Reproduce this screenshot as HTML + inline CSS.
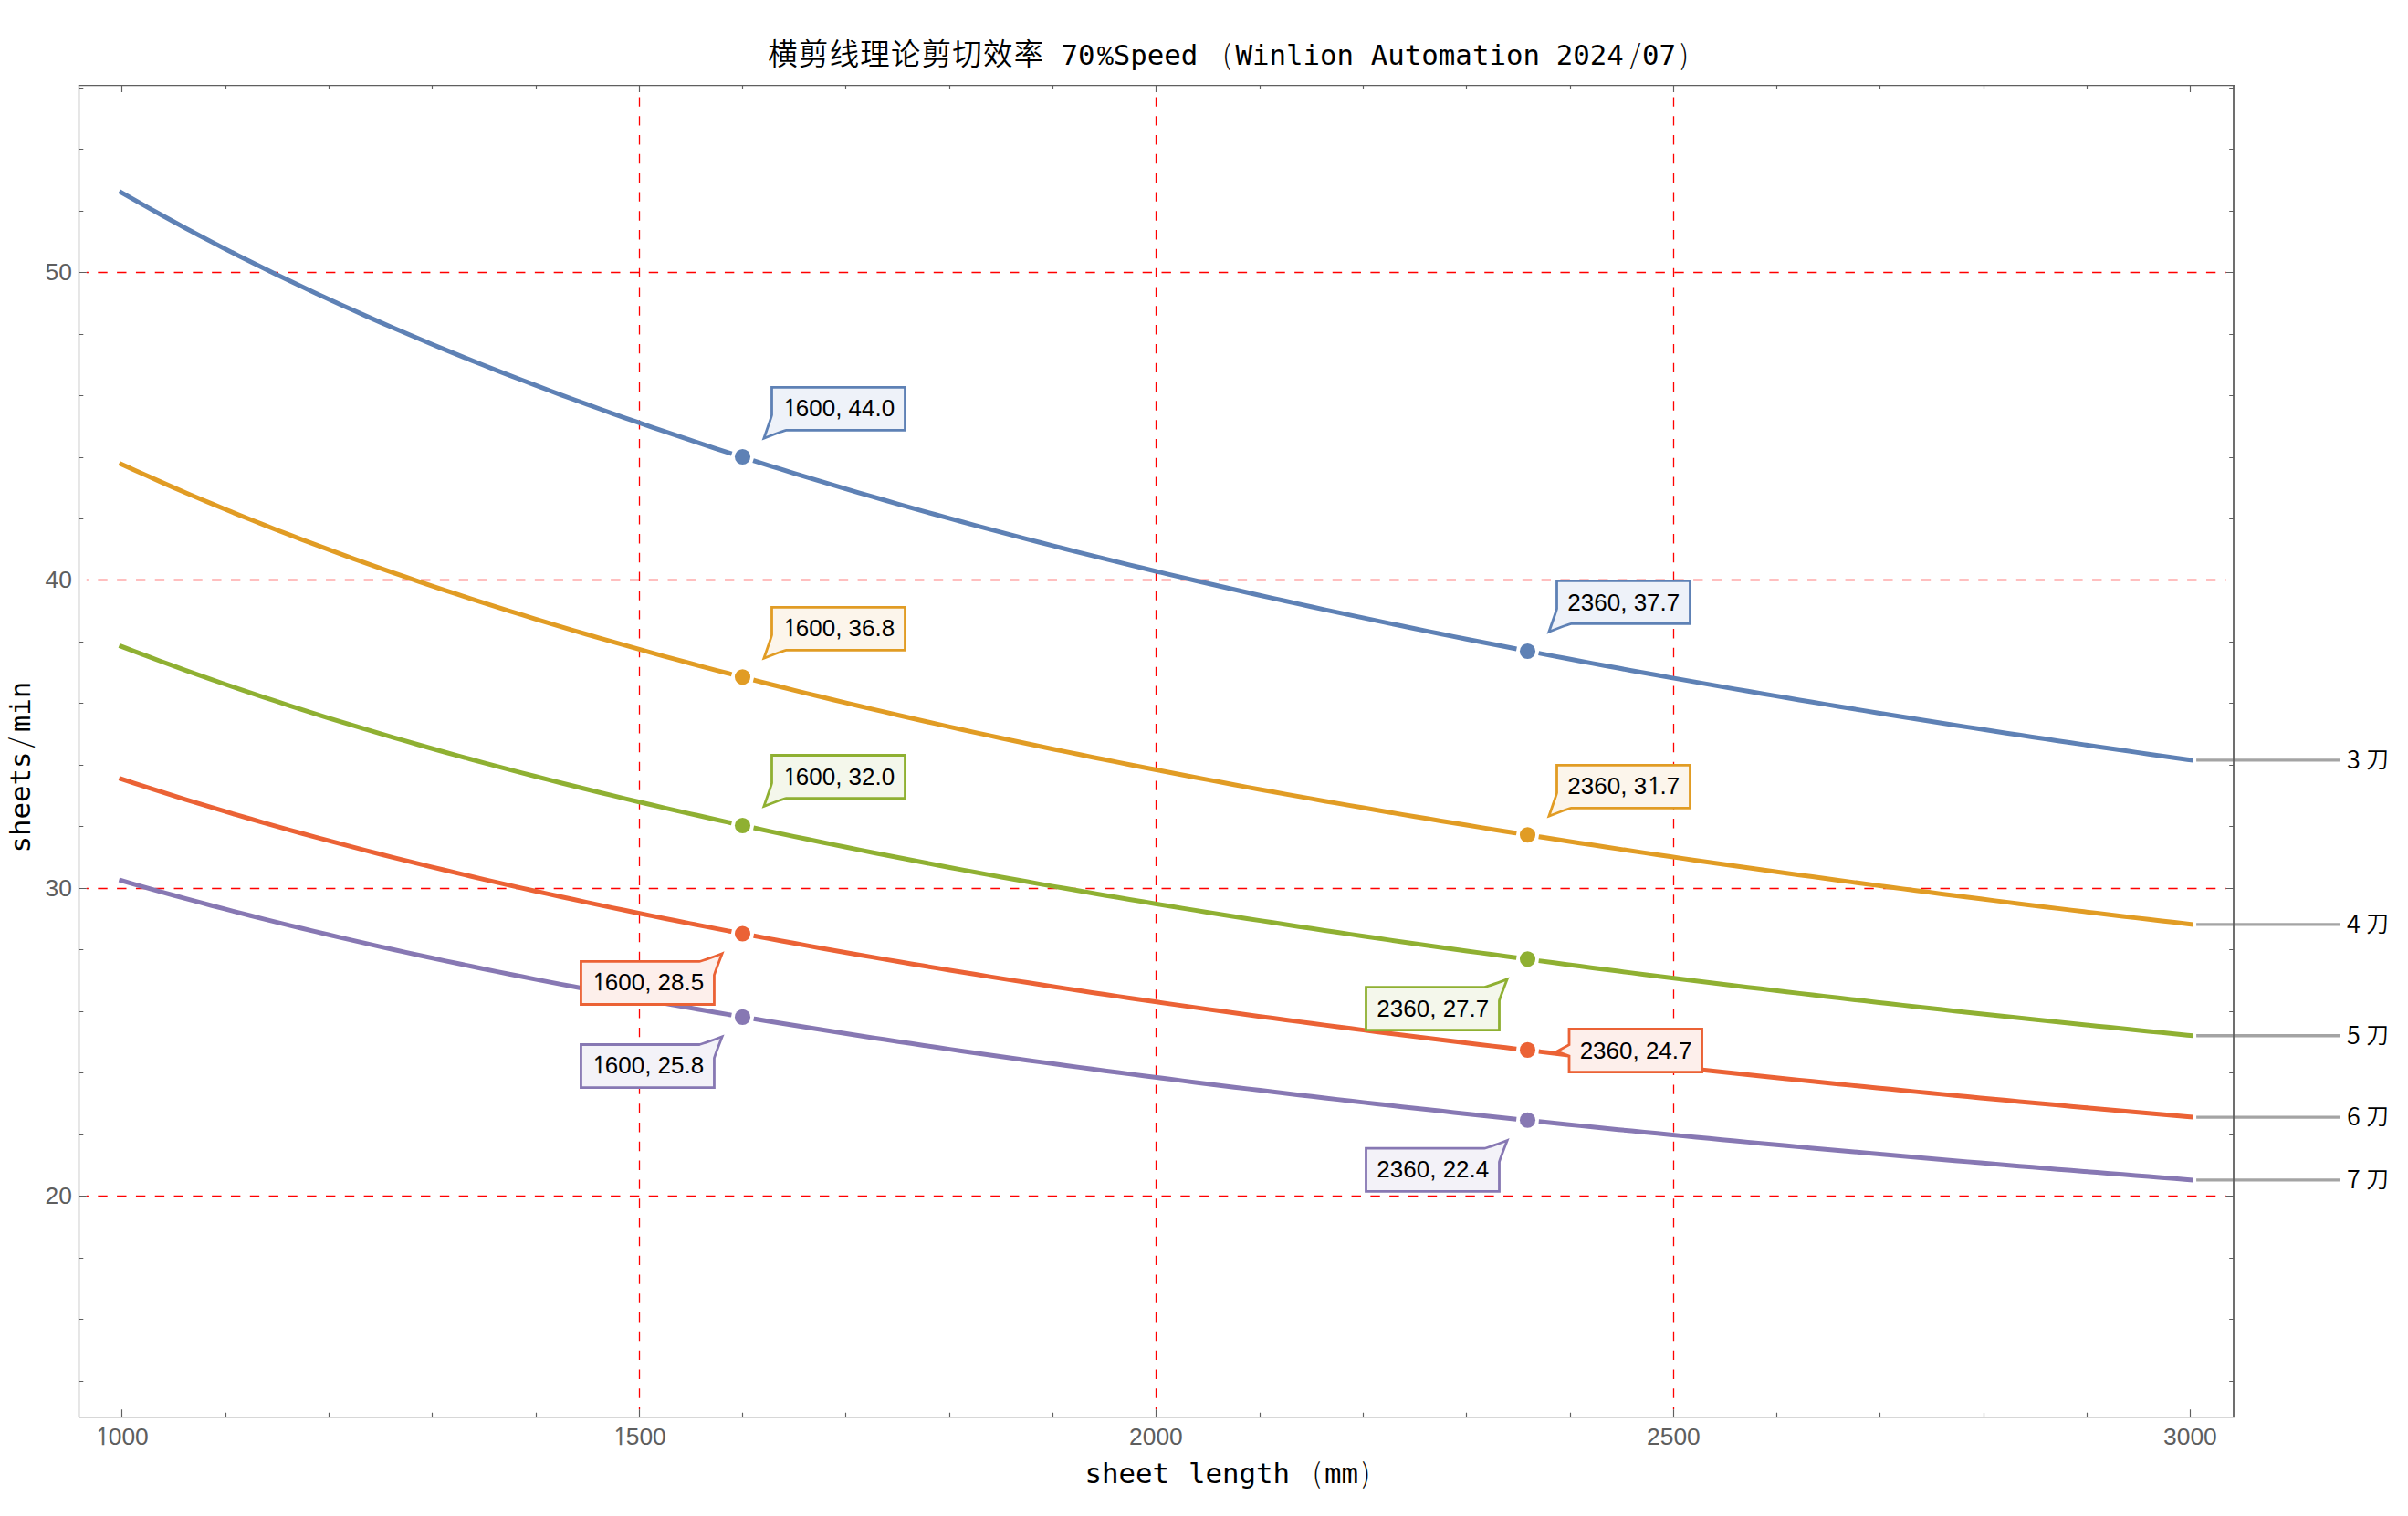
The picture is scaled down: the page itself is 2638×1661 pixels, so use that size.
<!DOCTYPE html>
<html lang="zh-CN">
<head>
<meta charset="utf-8">
<title>横剪线理论剪切效率 70%Speed (Winlion Automation 2024/07)</title>
<style>
html,body{margin:0;padding:0;background:#fff;}
body{width:2638px;height:1661px;overflow:hidden;}
svg{display:block;}
text{white-space:pre;}
.tick{font-family:'Liberation Sans', 'Noto Sans CJK SC', sans-serif;font-size:26.4px;fill:#5E5E5E;color:#5E5E5E;}
.call{font-family:'Liberation Sans', 'Noto Sans CJK SC', sans-serif;font-size:26px;fill:#000;color:#000;}
.one{font-family:'NanumGothic', 'Liberation Sans', sans-serif;stroke:currentColor;stroke-width:0.5px;}
.lab{font-family:'Noto Sans CJK SC', 'Liberation Sans', sans-serif;font-size:26.9px;font-weight:350;fill:#000;}
.labc{font-family:'Noto Sans CJK SC', 'Liberation Sans', sans-serif;font-size:24.6px;font-weight:350;}
.mono{font-family:'DejaVu Sans Mono', 'Liberation Mono', 'Noto Sans CJK SC', monospace;font-size:30.76px;fill:#000;}
.cjk{font-family:'Liberation Sans', 'Noto Sans CJK SC', sans-serif;font-size:32.4px;font-weight:350;letter-spacing:1.28px;}
.sym{font-family:'Noto Sans CJK SC', 'Liberation Sans', sans-serif;font-size:30px;font-weight:300;}
.pct{font-family:'Liberation Mono', 'DejaVu Sans Mono', monospace;font-size:29px;}
</style>
</head>
<body>
<svg width="2638" height="1661" viewBox="0 0 2638 1661" role="img" aria-label="sheets/min vs sheet length">
<rect x="0" y="0" width="2638" height="1661" fill="#ffffff"/>
<g id="grid" stroke="#FF0000" stroke-width="1.3" stroke-dasharray="10.4 10.407" stroke-dashoffset="8.3" fill="none">
<line x1="94.8" y1="1310.5" x2="2438.7" y2="1310.5"/>
<line x1="94.8" y1="973.5" x2="2438.7" y2="973.5"/>
<line x1="94.8" y1="635.5" x2="2438.7" y2="635.5"/>
<line x1="94.8" y1="298.5" x2="2438.7" y2="298.5"/>
<line x1="700.5" y1="1544.2" x2="700.5" y2="101.8"/>
<line x1="1266.5" y1="1544.2" x2="1266.5" y2="101.8"/>
<line x1="1833.5" y1="1544.2" x2="1833.5" y2="101.8"/>
</g>
<g id="curves" fill="none" stroke-width="5" stroke-linecap="square" stroke-linejoin="round">
<path stroke="#5E81B5" d="M132.88 210.83 L147.05 218.94 L161.21 226.93 L175.37 234.8 L189.54 242.55 L203.7 250.19 L217.86 257.72 L232.03 265.14 L246.19 272.45 L260.35 279.66 L274.51 286.77 L288.68 293.79 L302.84 300.7 L317 307.53 L331.17 314.26 L345.33 320.9 L359.49 327.46 L373.66 333.93 L387.82 340.31 L401.98 346.62 L416.15 352.85 L430.31 359 L444.47 365.07 L458.64 371.07 L472.8 376.99 L486.96 382.84 L501.12 388.63 L515.29 394.34 L529.45 399.99 L543.61 405.57 L557.78 411.09 L571.94 416.54 L586.1 421.94 L600.27 427.27 L614.43 432.54 L628.59 437.75 L642.76 442.91 L656.92 448.01 L671.08 453.05 L685.25 458.04 L699.41 462.98 L713.57 467.87 L727.73 472.7 L741.9 477.48 L756.06 482.22 L770.22 486.9 L784.39 491.54 L798.55 496.13 L799.29 496.37 M827.48 505.37 L841.64 509.82 L855.8 514.23 L869.97 518.6 L884.13 522.92 L898.29 527.21 L912.46 531.45 L926.62 535.65 L940.78 539.81 L954.94 543.94 L969.11 548.02 L983.27 552.07 L997.43 556.08 L1011.6 560.06 L1025.76 563.99 L1039.92 567.9 L1054.09 571.76 L1068.25 575.6 L1082.41 579.4 L1096.58 583.17 L1110.74 586.9 L1124.9 590.6 L1139.07 594.27 L1153.23 597.91 L1167.39 601.52 L1181.55 605.1 L1195.72 608.64 L1209.88 612.16 L1224.04 615.65 L1238.21 619.11 L1252.37 622.54 L1266.53 625.95 L1280.7 629.32 L1294.86 632.67 L1309.02 636 L1323.19 639.29 L1337.35 642.56 L1351.51 645.81 L1365.68 649.03 L1379.84 652.22 L1394 655.39 L1408.16 658.53 L1422.33 661.66 L1436.49 664.75 L1450.65 667.83 L1464.82 670.88 L1478.98 673.91 L1493.14 676.91 L1507.31 679.89 L1521.47 682.86 L1535.63 685.8 L1549.8 688.71 L1563.96 691.61 L1578.12 694.49 L1592.29 697.34 L1606.45 700.18 L1620.61 702.99 L1634.77 705.79 L1648.94 708.57 L1659 710.53 M1688.06 716.13 L1702.23 718.84 L1716.39 721.52 L1730.55 724.19 L1744.72 726.84 L1758.88 729.47 L1773.04 732.08 L1787.21 734.68 L1801.37 737.26 L1815.53 739.82 L1829.7 742.36 L1843.86 744.89 L1858.02 747.4 L1872.18 749.9 L1886.35 752.38 L1900.51 754.84 L1914.67 757.29 L1928.84 759.72 L1943 762.14 L1957.16 764.54 L1971.33 766.92 L1985.49 769.29 L1999.65 771.65 L2013.82 773.99 L2027.98 776.32 L2042.14 778.63 L2056.31 780.93 L2070.47 783.21 L2084.63 785.48 L2098.79 787.74 L2112.96 789.98 L2127.12 792.21 L2141.28 794.43 L2155.45 796.63 L2169.61 798.82 L2183.77 801 L2197.94 803.16 L2212.1 805.31 L2226.26 807.45 L2240.43 809.58 L2254.59 811.69 L2268.75 813.8 L2282.92 815.89 L2297.08 817.96 L2311.24 820.03 L2325.4 822.09 L2339.57 824.13 L2353.73 826.16 L2367.89 828.18 L2382.06 830.19 L2396.22 832.19 L2400.23 832.75"/>
<path stroke="#E19C24" d="M132.88 508.45 L147.05 514.94 L161.21 521.33 L175.37 527.63 L189.54 533.84 L203.7 539.95 L217.86 545.98 L232.03 551.93 L246.19 557.79 L260.35 563.58 L274.51 569.28 L288.68 574.91 L302.84 580.46 L317 585.94 L331.17 591.35 L345.33 596.68 L359.49 601.95 L373.66 607.15 L387.82 612.29 L401.98 617.36 L416.15 622.37 L430.31 627.32 L444.47 632.21 L458.64 637.04 L472.8 641.81 L486.96 646.53 L501.12 651.19 L515.29 655.79 L529.45 660.35 L543.61 664.85 L557.78 669.3 L571.94 673.7 L586.1 678.05 L600.27 682.36 L614.43 686.61 L628.59 690.82 L642.76 694.99 L656.92 699.11 L671.08 703.19 L685.25 707.22 L699.41 711.21 L713.57 715.16 L727.73 719.07 L741.9 722.94 L756.06 726.77 L770.22 730.57 L784.39 734.32 L798.55 738.04 L799.15 738.2 M827.8 745.6 L841.97 749.21 L856.13 752.78 L870.29 756.32 L884.46 759.83 L898.62 763.3 L912.78 766.74 L926.94 770.15 L941.11 773.52 L955.27 776.87 L969.43 780.18 L983.6 783.47 L997.76 786.73 L1011.92 789.95 L1026.09 793.15 L1040.25 796.32 L1054.41 799.46 L1068.58 802.58 L1082.74 805.67 L1096.9 808.73 L1111.07 811.76 L1125.23 814.77 L1139.39 817.76 L1153.55 820.72 L1167.72 823.65 L1181.88 826.56 L1196.04 829.45 L1210.21 832.31 L1224.37 835.15 L1238.53 837.97 L1252.7 840.76 L1266.86 843.53 L1281.02 846.28 L1295.19 849.01 L1309.35 851.72 L1323.51 854.4 L1337.68 857.07 L1351.84 859.71 L1366 862.34 L1380.16 864.94 L1394.33 867.52 L1408.49 870.09 L1422.65 872.63 L1436.82 875.16 L1450.98 877.67 L1465.14 880.16 L1479.31 882.63 L1493.47 885.08 L1507.63 887.52 L1521.8 889.93 L1535.96 892.34 L1550.12 894.72 L1564.29 897.08 L1578.45 899.43 L1592.61 901.77 L1606.77 904.08 L1620.94 906.38 L1635.1 908.67 L1649.26 910.94 L1658.88 912.47 M1688.12 917.08 L1702.29 919.29 L1716.45 921.49 L1730.61 923.67 L1744.78 925.84 L1758.94 927.99 L1773.1 930.13 L1787.26 932.25 L1801.43 934.36 L1815.59 936.46 L1829.75 938.54 L1843.92 940.61 L1858.08 942.67 L1872.24 944.71 L1886.41 946.74 L1900.57 948.76 L1914.73 950.77 L1928.9 952.76 L1943.06 954.74 L1957.22 956.71 L1971.39 958.66 L1985.55 960.6 L1999.71 962.54 L2013.87 964.46 L2028.04 966.36 L2042.2 968.26 L2056.36 970.14 L2070.53 972.02 L2084.69 973.88 L2098.85 975.73 L2113.02 977.57 L2127.18 979.4 L2141.34 981.22 L2155.51 983.03 L2169.67 984.82 L2183.83 986.61 L2198 988.39 L2212.16 990.15 L2226.32 991.91 L2240.48 993.66 L2254.65 995.39 L2268.81 997.12 L2282.97 998.84 L2297.14 1000.54 L2311.3 1002.24 L2325.46 1003.93 L2339.63 1005.61 L2353.79 1007.28 L2367.95 1008.94 L2382.12 1010.59 L2396.28 1012.23 L2400.23 1012.69"/>
<path stroke="#8FB032" d="M132.88 708.2 L147.05 713.62 L161.21 718.96 L175.37 724.23 L189.54 729.43 L203.7 734.55 L217.86 739.6 L232.03 744.57 L246.19 749.49 L260.35 754.33 L274.51 759.11 L288.68 763.83 L302.84 768.48 L317 773.08 L331.17 777.62 L345.33 782.09 L359.49 786.52 L373.66 790.88 L387.82 795.2 L401.98 799.46 L416.15 803.67 L430.31 807.82 L444.47 811.93 L458.64 815.99 L472.8 820.01 L486.96 823.97 L501.12 827.89 L515.29 831.77 L529.45 835.6 L543.61 839.39 L557.78 843.14 L571.94 846.84 L586.1 850.51 L600.27 854.13 L614.43 857.72 L628.59 861.27 L642.76 864.78 L656.92 868.25 L671.08 871.69 L685.25 875.09 L699.41 878.46 L713.57 881.79 L727.73 885.09 L741.9 888.36 L756.06 891.59 L770.22 894.79 L784.39 897.96 L798.55 901.1 L799.07 901.22 M827.99 907.53 L842.15 910.58 L856.31 913.6 L870.48 916.59 L884.64 919.55 L898.8 922.49 L912.96 925.4 L927.13 928.28 L941.29 931.13 L955.45 933.96 L969.62 936.77 L983.78 939.55 L997.94 942.3 L1012.11 945.04 L1026.27 947.74 L1040.43 950.43 L1054.6 953.09 L1068.76 955.73 L1082.92 958.34 L1097.09 960.94 L1111.25 963.51 L1125.41 966.06 L1139.57 968.59 L1153.74 971.1 L1167.9 973.58 L1182.06 976.05 L1196.23 978.5 L1210.39 980.93 L1224.55 983.33 L1238.72 985.72 L1252.88 988.09 L1267.04 990.45 L1281.21 992.78 L1295.37 995.1 L1309.53 997.39 L1323.7 999.67 L1337.86 1001.94 L1352.02 1004.18 L1366.18 1006.41 L1380.35 1008.62 L1394.51 1010.82 L1408.67 1013 L1422.84 1015.16 L1437 1017.31 L1451.16 1019.44 L1465.33 1021.55 L1479.49 1023.65 L1493.65 1025.74 L1507.82 1027.81 L1521.98 1029.86 L1536.14 1031.91 L1550.31 1033.93 L1564.47 1035.95 L1578.63 1037.94 L1592.79 1039.93 L1606.96 1041.9 L1621.12 1043.86 L1635.28 1045.8 L1649.45 1047.73 L1658.81 1049 M1688.14 1052.94 L1702.31 1054.83 L1716.47 1056.7 L1730.63 1058.55 L1744.8 1060.4 L1758.96 1062.23 L1773.12 1064.06 L1787.29 1065.87 L1801.45 1067.66 L1815.61 1069.45 L1829.78 1071.23 L1843.94 1072.99 L1858.1 1074.74 L1872.26 1076.49 L1886.43 1078.22 L1900.59 1079.94 L1914.75 1081.65 L1928.92 1083.35 L1943.08 1085.03 L1957.24 1086.71 L1971.41 1088.38 L1985.57 1090.04 L1999.73 1091.69 L2013.9 1093.32 L2028.06 1094.95 L2042.22 1096.57 L2056.39 1098.18 L2070.55 1099.78 L2084.71 1101.37 L2098.87 1102.95 L2113.04 1104.52 L2127.2 1106.08 L2141.36 1107.64 L2155.53 1109.18 L2169.69 1110.71 L2183.85 1112.24 L2198.02 1113.76 L2212.18 1115.27 L2226.34 1116.77 L2240.51 1118.26 L2254.67 1119.74 L2268.83 1121.22 L2283 1122.69 L2297.16 1124.15 L2311.32 1125.6 L2325.48 1127.04 L2339.65 1128.47 L2353.81 1129.9 L2367.97 1131.32 L2382.14 1132.73 L2396.3 1134.14 L2400.23 1134.53"/>
<path stroke="#EB6235" d="M132.88 853.41 L147.05 858.08 L161.21 862.68 L175.37 867.21 L189.54 871.68 L203.7 876.09 L217.86 880.44 L232.03 884.73 L246.19 888.97 L260.35 893.14 L274.51 897.27 L288.68 901.33 L302.84 905.35 L317 909.31 L331.17 913.23 L345.33 917.1 L359.49 920.91 L373.66 924.68 L387.82 928.41 L401.98 932.09 L416.15 935.73 L430.31 939.32 L444.47 942.87 L458.64 946.38 L472.8 949.85 L486.96 953.28 L501.12 956.67 L515.29 960.02 L529.45 963.34 L543.61 966.62 L557.78 969.86 L571.94 973.07 L586.1 976.24 L600.27 979.38 L614.43 982.49 L628.59 985.56 L642.76 988.61 L656.92 991.62 L671.08 994.6 L685.25 997.54 L699.41 1000.46 L713.57 1003.35 L727.73 1006.22 L741.9 1009.05 L756.06 1011.85 L770.22 1014.63 L784.39 1017.38 L798.55 1020.11 L798.97 1020.19 M828.05 1025.7 L842.21 1028.35 L856.38 1030.97 L870.54 1033.57 L884.7 1036.14 L898.87 1038.69 L913.03 1041.22 L927.19 1043.72 L941.36 1046.2 L955.52 1048.66 L969.68 1051.1 L983.85 1053.52 L998.01 1055.92 L1012.17 1058.29 L1026.33 1060.65 L1040.5 1062.98 L1054.66 1065.29 L1068.82 1067.59 L1082.99 1069.87 L1097.15 1072.12 L1111.31 1074.36 L1125.48 1076.58 L1139.64 1078.78 L1153.8 1080.97 L1167.97 1083.13 L1182.13 1085.28 L1196.29 1087.41 L1210.46 1089.53 L1224.62 1091.63 L1238.78 1093.71 L1252.94 1095.78 L1267.11 1097.83 L1281.27 1099.86 L1295.43 1101.88 L1309.6 1103.88 L1323.76 1105.87 L1337.92 1107.84 L1352.09 1109.8 L1366.25 1111.74 L1380.41 1113.67 L1394.58 1115.59 L1408.74 1117.49 L1422.9 1119.37 L1437.07 1121.25 L1451.23 1123.11 L1465.39 1124.95 L1479.55 1126.79 L1493.72 1128.61 L1507.88 1130.41 L1522.04 1132.21 L1536.21 1133.99 L1550.37 1135.76 L1564.53 1137.52 L1578.7 1139.27 L1592.86 1141 L1607.02 1142.72 L1621.19 1144.43 L1635.35 1146.13 L1649.51 1147.82 L1658.77 1148.91 M1688.17 1152.37 L1702.33 1154.01 L1716.5 1155.65 L1730.66 1157.27 L1744.82 1158.88 L1758.98 1160.49 L1773.15 1162.08 L1787.31 1163.66 L1801.47 1165.24 L1815.64 1166.8 L1829.8 1168.35 L1843.96 1169.9 L1858.13 1171.43 L1872.29 1172.95 L1886.45 1174.47 L1900.62 1175.98 L1914.78 1177.47 L1928.94 1178.96 L1943.11 1180.44 L1957.27 1181.91 L1971.43 1183.37 L1985.59 1184.82 L1999.76 1186.26 L2013.92 1187.69 L2028.08 1189.12 L2042.25 1190.54 L2056.41 1191.95 L2070.57 1193.35 L2084.74 1194.74 L2098.9 1196.12 L2113.06 1197.5 L2127.23 1198.87 L2141.39 1200.23 L2155.55 1201.58 L2169.72 1202.93 L2183.88 1204.27 L2198.04 1205.6 L2212.2 1206.92 L2226.37 1208.23 L2240.53 1209.54 L2254.69 1210.84 L2268.86 1212.14 L2283.02 1213.42 L2297.18 1214.7 L2311.35 1215.97 L2325.51 1217.24 L2339.67 1218.5 L2353.84 1219.75 L2368 1221 L2382.16 1222.24 L2396.33 1223.47 L2400.23 1223.81"/>
<path stroke="#8778B3" d="M132.88 964.69 L147.05 968.79 L161.21 972.83 L175.37 976.81 L189.54 980.74 L203.7 984.62 L217.86 988.44 L232.03 992.21 L246.19 995.93 L260.35 999.61 L274.51 1003.23 L288.68 1006.81 L302.84 1010.35 L317 1013.84 L331.17 1017.28 L345.33 1020.69 L359.49 1024.05 L373.66 1027.37 L387.82 1030.65 L401.98 1033.9 L416.15 1037.1 L430.31 1040.27 L444.47 1043.4 L458.64 1046.49 L472.8 1049.55 L486.96 1052.58 L501.12 1055.57 L515.29 1058.53 L529.45 1061.45 L543.61 1064.35 L557.78 1067.21 L571.94 1070.04 L586.1 1072.85 L600.27 1075.62 L614.43 1078.36 L628.59 1081.08 L642.76 1083.77 L656.92 1086.43 L671.08 1089.06 L685.25 1091.67 L699.41 1094.25 L713.57 1096.8 L727.73 1099.33 L741.9 1101.84 L756.06 1104.32 L770.22 1106.78 L784.39 1109.21 L798.55 1111.62 L798.95 1111.69 M828.14 1116.58 L842.3 1118.93 L856.46 1121.25 L870.63 1123.55 L884.79 1125.83 L898.95 1128.08 L913.12 1130.32 L927.28 1132.54 L941.44 1134.74 L955.61 1136.92 L969.77 1139.08 L983.93 1141.22 L998.1 1143.34 L1012.26 1145.45 L1026.42 1147.53 L1040.58 1149.6 L1054.75 1151.66 L1068.91 1153.69 L1083.07 1155.71 L1097.24 1157.71 L1111.4 1159.7 L1125.56 1161.67 L1139.73 1163.62 L1153.89 1165.56 L1168.05 1167.48 L1182.22 1169.39 L1196.38 1171.28 L1210.54 1173.16 L1224.71 1175.02 L1238.87 1176.87 L1253.03 1178.7 L1267.19 1180.52 L1281.36 1182.33 L1295.52 1184.12 L1309.68 1185.9 L1323.85 1187.66 L1338.01 1189.42 L1352.17 1191.16 L1366.34 1192.88 L1380.5 1194.6 L1394.66 1196.3 L1408.83 1197.99 L1422.99 1199.67 L1437.15 1201.33 L1451.32 1202.98 L1465.48 1204.63 L1479.64 1206.26 L1493.8 1207.88 L1507.97 1209.48 L1522.13 1211.08 L1536.29 1212.66 L1550.46 1214.24 L1564.62 1215.8 L1578.78 1217.35 L1592.95 1218.9 L1607.11 1220.43 L1621.27 1221.95 L1635.44 1223.46 L1649.6 1224.96 L1658.76 1225.93 M1688.2 1229.01 L1702.36 1230.47 L1716.53 1231.93 L1730.69 1233.38 L1744.85 1234.81 L1759.02 1236.24 L1773.18 1237.66 L1787.34 1239.07 L1801.51 1240.47 L1815.67 1241.86 L1829.83 1243.25 L1844 1244.62 L1858.16 1245.99 L1872.32 1247.35 L1886.48 1248.7 L1900.65 1250.04 L1914.81 1251.37 L1928.97 1252.7 L1943.14 1254.02 L1957.3 1255.32 L1971.46 1256.63 L1985.63 1257.92 L1999.79 1259.21 L2013.95 1260.49 L2028.12 1261.76 L2042.28 1263.02 L2056.44 1264.28 L2070.61 1265.53 L2084.77 1266.77 L2098.93 1268 L2113.09 1269.23 L2127.26 1270.45 L2141.42 1271.67 L2155.58 1272.88 L2169.75 1274.08 L2183.91 1275.27 L2198.07 1276.46 L2212.24 1277.64 L2226.4 1278.81 L2240.56 1279.98 L2254.73 1281.14 L2268.89 1282.3 L2283.05 1283.44 L2297.22 1284.59 L2311.38 1285.72 L2325.54 1286.85 L2339.7 1287.98 L2353.87 1289.09 L2368.03 1290.21 L2382.19 1291.31 L2396.36 1292.41 L2400.23 1292.71"/>
</g>
<g id="leaders" stroke="#A4A4A4" stroke-width="3.3" fill="none">
<line x1="2406.1" y1="832.96" x2="2564" y2="832.96"/>
<line x1="2406.1" y1="1012.91" x2="2564" y2="1012.91"/>
<line x1="2406.1" y1="1134.76" x2="2564" y2="1134.76"/>
<line x1="2406.1" y1="1224.05" x2="2564" y2="1224.05"/>
<line x1="2406.1" y1="1292.96" x2="2564" y2="1292.96"/>
</g>
<g id="markers" stroke="none">
<circle cx="813.5" cy="500.5" r="8.55" fill="#5E81B5"/>
<circle cx="1673.5" cy="713.5" r="8.55" fill="#5E81B5"/>
<circle cx="813.5" cy="741.8" r="8.55" fill="#E19C24"/>
<circle cx="1673.5" cy="914.8" r="8.55" fill="#E19C24"/>
<circle cx="813.5" cy="904.5" r="8.55" fill="#8FB032"/>
<circle cx="1673.5" cy="1050.8" r="8.55" fill="#8FB032"/>
<circle cx="813.5" cy="1023" r="8.55" fill="#EB6235"/>
<circle cx="1673.5" cy="1150.4" r="8.55" fill="#EB6235"/>
<circle cx="813.5" cy="1114.4" r="8.55" fill="#8778B3"/>
<circle cx="1673.5" cy="1227.3" r="8.55" fill="#8778B3"/>
</g>
<g id="callouts">
<g>
<path d="M845.5 424.3 H991.5 V471.4 H861.3 Q858.5 471.75 836.9 480.2 Q845.35 456.2 845.5 454.7 Z" fill="#EEF2F9" stroke="#5E81B5" stroke-width="2.8" stroke-linejoin="miter" stroke-miterlimit="6"/>
<text class="call" y="455.5"><tspan class="one" x="857.8" style="font-size:25.01px">1</tspan><tspan x="871.81">600, 44.0</tspan></text>
</g>
<g>
<path d="M1705.5 636.35 H1851.5 V683.45 H1721.3 Q1718.5 683.8 1696.9 692.25 Q1705.35 668.25 1705.5 666.75 Z" fill="#EEF2F9" stroke="#5E81B5" stroke-width="2.8" stroke-linejoin="miter" stroke-miterlimit="6"/>
<text class="call" y="668.7"><tspan x="1717.35">2360, 37.7</tspan></text>
</g>
<g>
<path d="M845.5 665.3 H991.5 V712.4 H861.3 Q858.5 712.75 836.9 721.2 Q845.35 697.2 845.5 695.7 Z" fill="#FCF5EB" stroke="#E19C24" stroke-width="2.8" stroke-linejoin="miter" stroke-miterlimit="6"/>
<text class="call" y="696.7"><tspan class="one" x="857.8" style="font-size:25.01px">1</tspan><tspan x="871.81">600, 36.8</tspan></text>
</g>
<g>
<path d="M1705.5 838.3 H1851.5 V885.4 H1721.3 Q1718.5 885.75 1696.9 894.2 Q1705.35 870.2 1705.5 868.7 Z" fill="#FCF5EB" stroke="#E19C24" stroke-width="2.8" stroke-linejoin="miter" stroke-miterlimit="6"/>
<text class="call" y="869.7"><tspan x="1717.35">2360, 3</tspan><tspan class="one" x="1804.54" style="font-size:25.01px">1</tspan><tspan x="1818.56">.7</tspan></text>
</g>
<g>
<path d="M845.5 827.5 H991.5 V874.6 H861.3 Q858.5 874.95 836.9 883.4 Q845.35 859.4 845.5 857.9 Z" fill="#F4F7EB" stroke="#8FB032" stroke-width="2.8" stroke-linejoin="miter" stroke-miterlimit="6"/>
<text class="call" y="859.8"><tspan class="one" x="857.8" style="font-size:25.01px">1</tspan><tspan x="871.81">600, 32.0</tspan></text>
</g>
<g>
<path d="M1496.5 1081.55 H1626.1 Q1628.9 1081.2 1651.2 1072.85 Q1642.65 1095.05 1642.5 1096.55 V1128.65 H1496.5 Z" fill="#F4F7EB" stroke="#8FB032" stroke-width="2.8" stroke-linejoin="miter" stroke-miterlimit="6"/>
<text class="call" y="1113.6"><tspan x="1508.35">2360, 27.7</tspan></text>
</g>
<g>
<path d="M636.45 1053.4 H766.05 Q768.85 1053.05 791.15 1044.7 Q782.6 1066.9 782.45 1068.4 V1100.5 H636.45 Z" fill="#FDEFEB" stroke="#EB6235" stroke-width="2.8" stroke-linejoin="miter" stroke-miterlimit="6"/>
<text class="call" y="1085.4"><tspan class="one" x="648.75" style="font-size:25.01px">1</tspan><tspan x="662.76">600, 28.5</tspan></text>
</g>
<g>
<path d="M1719 1127.45 H1864.55 V1174.55 H1719 V1157.05 L1705.6 1152.05 L1719 1144.65 Z" fill="#FDEFEB" stroke="#EB6235" stroke-width="2.8" stroke-linejoin="miter" stroke-miterlimit="6"/>
<text class="call" y="1159.8"><tspan x="1730.63">2360, 24.7</tspan></text>
</g>
<g>
<path d="M636.45 1144.5 H766.05 Q768.85 1144.15 791.15 1135.8 Q782.6 1158 782.45 1159.5 V1191.6 H636.45 Z" fill="#F3F2F8" stroke="#8778B3" stroke-width="2.8" stroke-linejoin="miter" stroke-miterlimit="6"/>
<text class="call" y="1176.4"><tspan class="one" x="648.75" style="font-size:25.01px">1</tspan><tspan x="662.76">600, 25.8</tspan></text>
</g>
<g>
<path d="M1496.5 1258.2 H1626.1 Q1628.9 1257.85 1651.2 1249.5 Q1642.65 1271.7 1642.5 1273.2 V1305.3 H1496.5 Z" fill="#F3F2F8" stroke="#8778B3" stroke-width="2.8" stroke-linejoin="miter" stroke-miterlimit="6"/>
<text class="call" y="1289.9"><tspan x="1508.35">2360, 22.4</tspan></text>
</g>
</g>
<g id="frame" stroke="#5F5F5F" fill="none">
<path d="M86.5 92.9 V1553.1" stroke-width="1.3"/>
<path d="M2447 92.9 V1553.1" stroke-width="1.8"/>
<path d="M85.9 93.5 H2447.9 M85.9 1552.5 H2447.9" stroke-width="1.25"/>
<path d="M133.5 1552.5 v-8.3 M133.5 93.5 v7.5 M247.5 1552.5 v-4.8 M247.5 93.5 v4 M360.5 1552.5 v-4.8 M360.5 93.5 v4 M473.5 1552.5 v-4.8 M473.5 93.5 v4 M587.5 1552.5 v-4.8 M587.5 93.5 v4 M700.5 1552.5 v-8.3 M700.5 93.5 v7.5 M813.5 1552.5 v-4.8 M813.5 93.5 v4 M926.5 1552.5 v-4.8 M926.5 93.5 v4 M1040.5 1552.5 v-4.8 M1040.5 93.5 v4 M1153.5 1552.5 v-4.8 M1153.5 93.5 v4 M1266.5 1552.5 v-8.3 M1266.5 93.5 v7.5 M1380.5 1552.5 v-4.8 M1380.5 93.5 v4 M1493.5 1552.5 v-4.8 M1493.5 93.5 v4 M1606.5 1552.5 v-4.8 M1606.5 93.5 v4 M1720.5 1552.5 v-4.8 M1720.5 93.5 v4 M1833.5 1552.5 v-8.3 M1833.5 93.5 v7.5 M1946.5 1552.5 v-4.8 M1946.5 93.5 v4 M2059.5 1552.5 v-4.8 M2059.5 93.5 v4 M2173.5 1552.5 v-4.8 M2173.5 93.5 v4 M2286.5 1552.5 v-4.8 M2286.5 93.5 v4 M2399.5 1552.5 v-8.3 M2399.5 93.5 v7.5 M86.5 1513.5 h4.8 M2447 1513.5 h-4.8 M86.5 1445.5 h4.8 M2447 1445.5 h-4.8 M86.5 1378.5 h4.8 M2447 1378.5 h-4.8 M86.5 1310.5 h8.3 M2447 1310.5 h-8.3 M86.5 1243.5 h4.8 M2447 1243.5 h-4.8 M86.5 1175.5 h4.8 M2447 1175.5 h-4.8 M86.5 1108.5 h4.8 M2447 1108.5 h-4.8 M86.5 1040.5 h4.8 M2447 1040.5 h-4.8 M86.5 973.5 h8.3 M2447 973.5 h-8.3 M86.5 905.5 h4.8 M2447 905.5 h-4.8 M86.5 838.5 h4.8 M2447 838.5 h-4.8 M86.5 770.5 h4.8 M2447 770.5 h-4.8 M86.5 703.5 h4.8 M2447 703.5 h-4.8 M86.5 635.5 h8.3 M2447 635.5 h-8.3 M86.5 568.5 h4.8 M2447 568.5 h-4.8 M86.5 501.5 h4.8 M2447 501.5 h-4.8 M86.5 433.5 h4.8 M2447 433.5 h-4.8 M86.5 366.5 h4.8 M2447 366.5 h-4.8 M86.5 298.5 h8.3 M2447 298.5 h-8.3 M86.5 231.5 h4.8 M2447 231.5 h-4.8 M86.5 163.5 h4.8 M2447 163.5 h-4.8 M86.5 96.5 h4.8 M2447 96.5 h-4.8" stroke-width="1.15"/>
</g>
<g id="ticklabels">
<text class="tick" y="1582.9"><tspan class="one" x="104.48" style="font-size:25.4px">1</tspan><tspan x="118.72">000</tspan></text>
<text class="tick" y="1582.9"><tspan class="one" x="671.48" style="font-size:25.4px">1</tspan><tspan x="685.72">500</tspan></text>
<text class="tick" y="1582.9"><tspan x="1237.04">2000</tspan></text>
<text class="tick" y="1582.9"><tspan x="1804.04">2500</tspan></text>
<text class="tick" y="1582.9"><tspan x="2370.04">3000</tspan></text>
<text class="tick" y="1318.7"><tspan x="49.54">20</tspan></text>
<text class="tick" y="981.7"><tspan x="49.54">30</tspan></text>
<text class="tick" y="643.7"><tspan x="49.54">40</tspan></text>
<text class="tick" y="306.7"><tspan x="49.54">50</tspan></text>
</g>
<g id="rlabels">
<text class="lab" x="2571" y="842.06">3 <tspan class="labc" x="2592.2" dy="-1.1">刀</tspan></text>
<text class="lab" x="2571" y="1022.01">4 <tspan class="labc" x="2592.2" dy="-1.1">刀</tspan></text>
<text class="lab" x="2571" y="1143.86">5 <tspan class="labc" x="2592.2" dy="-1.1">刀</tspan></text>
<text class="lab" x="2571" y="1233.15">6 <tspan class="labc" x="2592.2" dy="-1.1">刀</tspan></text>
<text class="lab" x="2571" y="1302.06">7 <tspan class="labc" x="2592.2" dy="-1.1">刀</tspan></text>
</g>
<g id="titles">
<text class="mono" y="70.7"><tspan class="cjk" x="841.3">横剪线理论剪切效率</tspan> <tspan x="1162.6">70</tspan><tspan class="pct" x="1202.2">%</tspan><tspan x="1219.8">Speed</tspan> <tspan class="sym" x="1339.2">(</tspan><tspan x="1353.4">Winlion</tspan> <tspan x="1501.8">Automation</tspan> <tspan x="1704.8">2024</tspan><tspan class="sym" x="1785.5">/</tspan><tspan x="1799">07</tspan><tspan class="sym" x="1840.4">)</tspan></text>
<text class="mono" y="1625.2"><tspan x="1188.4">sheet</tspan> <tspan x="1302">length</tspan> <tspan class="sym" x="1437.8">(</tspan><tspan x="1451.1">mm</tspan><tspan class="sym" x="1491.8">)</tspan></text>
<text class="mono" transform="translate(33.2 934.6) rotate(-90)" y="0"><tspan x="0">sheets</tspan><tspan class="sym" x="115.2">/</tspan><tspan x="132.4">min</tspan></text>
</g>
</svg>
</body>
</html>
